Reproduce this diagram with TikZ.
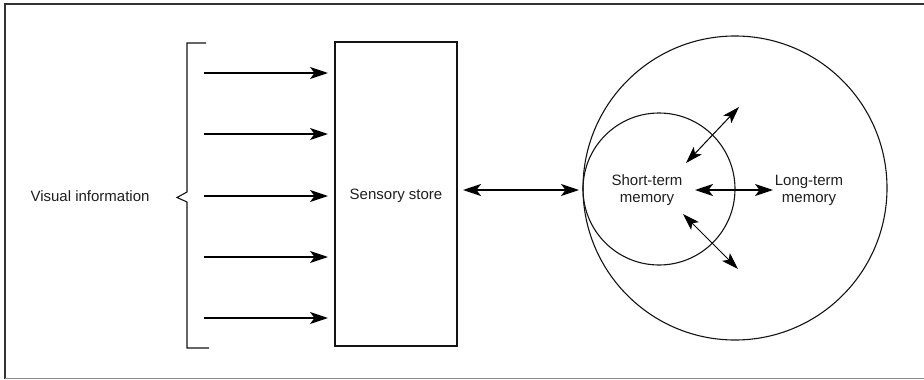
\documentclass[tikz,border=0pt]{standalone}
\usepackage{fontspec}
\setmainfont{Liberation Sans}
\usetikzlibrary{arrows.meta}
\tikzset{
  lbl/.style={font=\fontsize{15}{17}\selectfont, text=black!88, align=center, inner sep=0pt},
  tip/.style={Stealth[length=18pt, width=12pt, inset=4.5pt]},
  inarrow/.style={line width=1.7pt, -{Stealth[length=18pt, width=12pt, inset=4.5pt]}},
  twoway/.style={line width=1.7pt, {Stealth[length=18pt, width=12pt, inset=4.5pt]}-{Stealth[length=18pt, width=12pt, inset=4.5pt]}},
  diagway/.style={line width=1pt, {Stealth[length=17pt, width=11pt, inset=4pt]}-{Stealth[length=17pt, width=11pt, inset=4pt]}},
  outline/.style={line width=1.1pt, draw=black!92},
}
\begin{document}
\begin{tikzpicture}[x=1pt, y=-1pt]
  \useasboundingbox (0,0) rectangle (924,380);
  \fill[white] (0,0) rectangle (924,380);
  % frame
  \draw[line width=2pt, black!80] (5,379) -- (5,4) -- (930,4);
  \draw[line width=1pt, black!45] (5,378.5) -- (930,378.5);

  % input side
  \node[lbl] (vis) at (90,196) {Visual information};
  \draw[outline] (206,43) -- (187,43) -- (187,192) -- (177,197.5) -- (187,202) -- (187,348) -- (209,348);
  \node[outline, draw, minimum width=122pt, minimum height=304pt, inner sep=0pt] (store) at (396,194) {};
  \node[lbl] (storelbl) at (396,196) {Sensory store};

  \foreach \yy/\nm in {73/a, 134/b, 196/c, 257/d, 318/e} {
    \coordinate (src\nm) at (204,\yy);
    \coordinate (dst\nm) at (328,\yy);
    \draw[inarrow] (src\nm) -- (dst\nm);
  }

  % memory circles
  \node[outline, draw, circle, minimum size=304pt, inner sep=0pt] (ltm) at (735,188) {};
  \node[outline, draw, circle, minimum size=152pt, inner sep=0pt] (stm) at (659,189) {};
  \node[lbl] (stmlbl) at (647,190) {Short-term\\memory};
  \node[lbl] (ltmlbl) at (809,190) {Long-term\\memory};

  \coordinate (linkL) at (463,190);
  \coordinate (linkR) at (579,190);
  \draw[twoway] (linkL) -- (linkR);

  \coordinate (hL) at (695,190);
  \coordinate (hR) at (773,190);
  \draw[twoway] (hL) -- (hR);

  \coordinate (uA) at (686,163);
  \coordinate (uB) at (739,107);
  \draw[diagway] (uA) -- (uB);
  \coordinate (dA) at (683,214);
  \coordinate (dB) at (738,269);
  \draw[diagway] (dA) -- (dB);
\end{tikzpicture}
\end{document}
